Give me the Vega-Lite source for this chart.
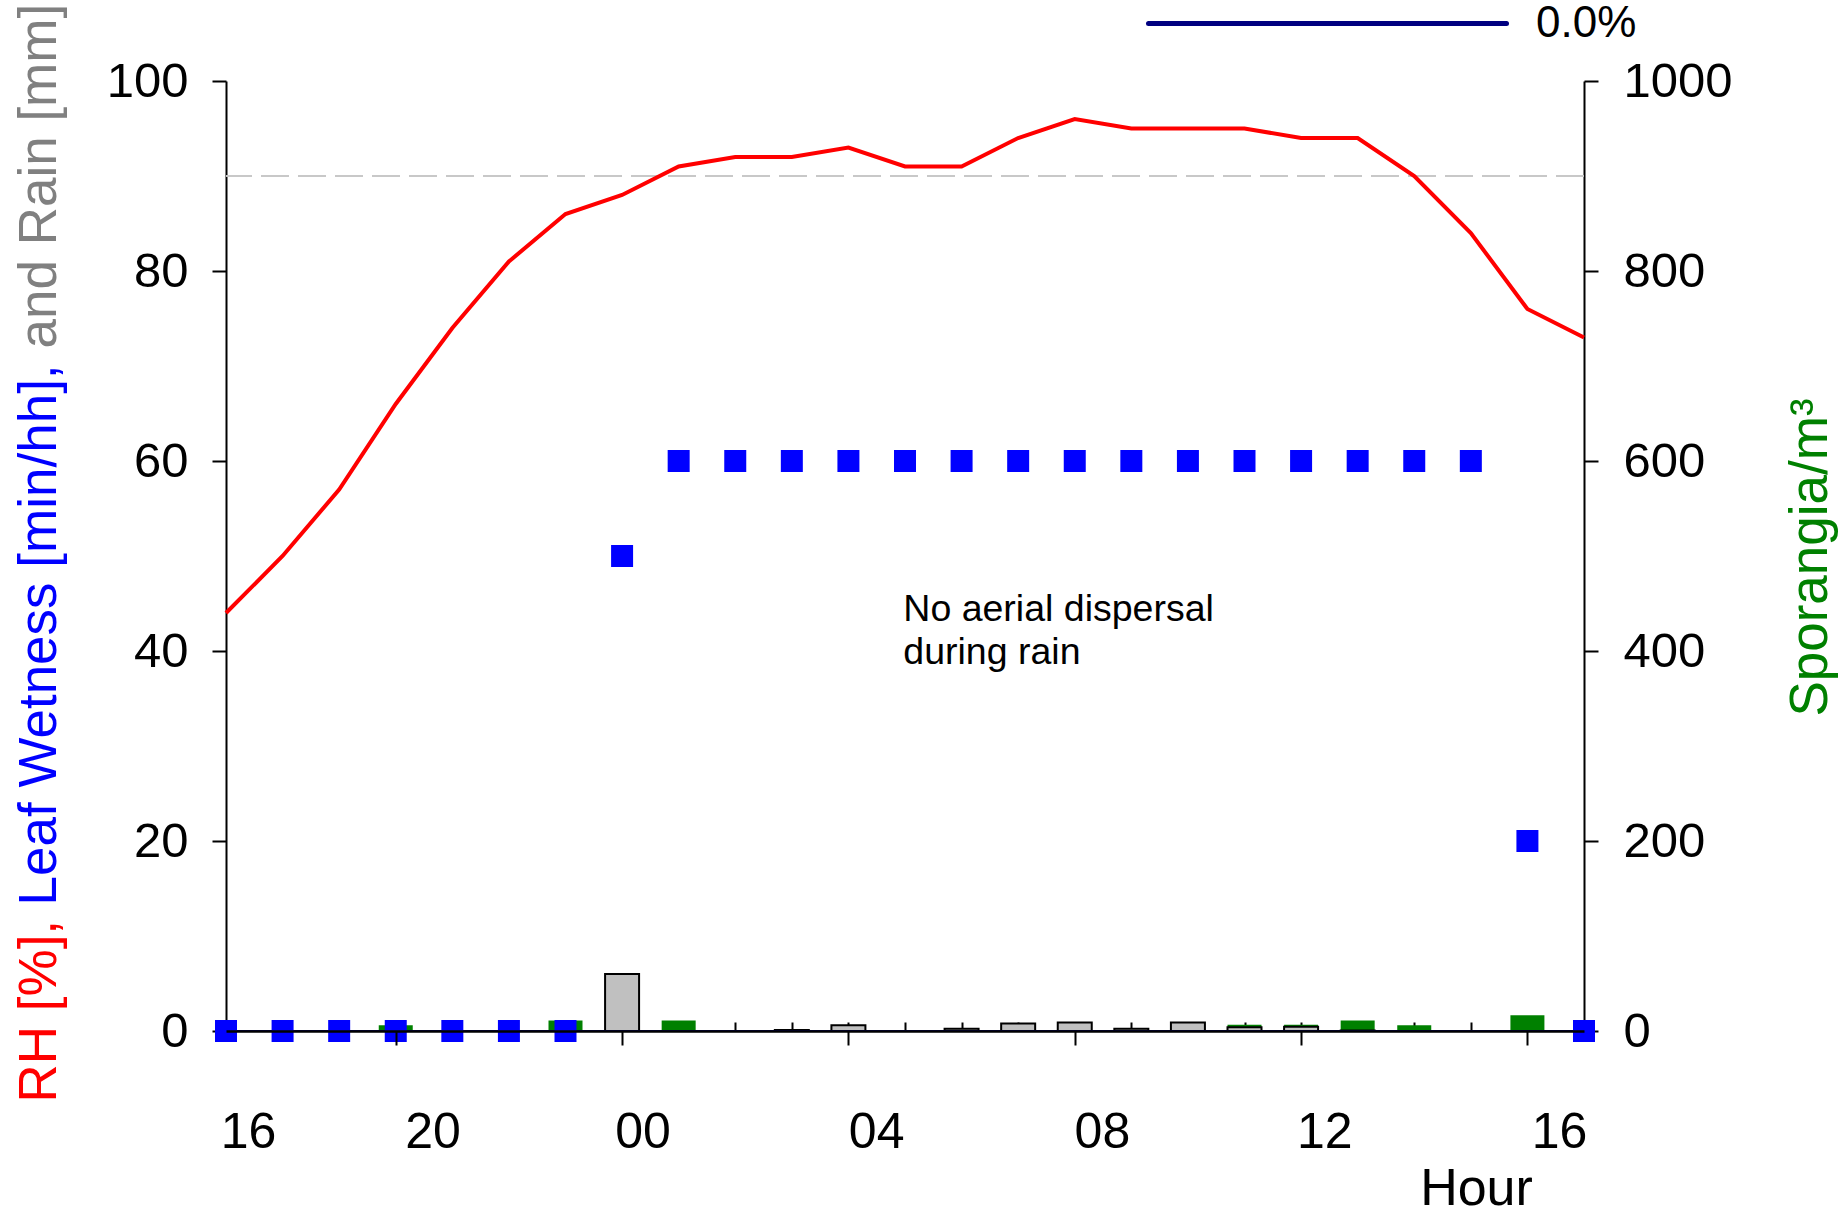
{
  "$schema": "https://vega.github.io/schema/vega-lite/v6.json",
  "width": 1358,
  "height": 950,
  "autosize": "none",
  "padding": {"left": 226, "top": 81, "right": 255, "bottom": 178},
  "background": "white",
  "config": {
    "view": {"stroke": null},
    "font": "Liberation Sans",
    "axis": {"labelFont": "Liberation Sans", "titleFont": "Liberation Sans", "titleFontWeight": "normal", "domainColor": "black", "tickColor": "black", "labelColor": "black", "grid": false}
  },
  "data": {"values": [
    {"h": 0, "rh": 44, "lw": 0, "rain": null, "spor": null, "risk": 0},
    {"h": 1, "rh": 50, "lw": 0, "rain": null, "spor": null, "risk": 0},
    {"h": 2, "rh": 57, "lw": 0, "rain": null, "spor": null, "risk": 0},
    {"h": 3, "rh": 66, "lw": 0, "rain": null, "spor": 6, "risk": 0},
    {"h": 4, "rh": 74, "lw": 0, "rain": null, "spor": null, "risk": 0},
    {"h": 5, "rh": 81, "lw": 0, "rain": null, "spor": null, "risk": 0},
    {"h": 6, "rh": 86, "lw": 0, "rain": null, "spor": 11, "risk": 0},
    {"h": 7, "rh": 88, "lw": 50, "rain": 6, "spor": null, "risk": 0},
    {"h": 8, "rh": 91, "lw": 60, "rain": null, "spor": 11, "risk": 0},
    {"h": 9, "rh": 92, "lw": 60, "rain": null, "spor": null, "risk": 0},
    {"h": 10, "rh": 92, "lw": 60, "rain": 0.1, "spor": null, "risk": 0},
    {"h": 11, "rh": 93, "lw": 60, "rain": 0.6, "spor": null, "risk": 0},
    {"h": 12, "rh": 91, "lw": 60, "rain": null, "spor": null, "risk": 0},
    {"h": 13, "rh": 91, "lw": 60, "rain": 0.25, "spor": null, "risk": 0},
    {"h": 14, "rh": 94, "lw": 60, "rain": 0.8, "spor": null, "risk": 0},
    {"h": 15, "rh": 96, "lw": 60, "rain": 0.9, "spor": null, "risk": 0},
    {"h": 16, "rh": 95, "lw": 60, "rain": 0.25, "spor": null, "risk": 0},
    {"h": 17, "rh": 95, "lw": 60, "rain": 0.9, "spor": null, "risk": 0},
    {"h": 18, "rh": 95, "lw": 60, "rain": 0.4, "spor": 6.5, "risk": 0},
    {"h": 19, "rh": 94, "lw": 60, "rain": 0.45, "spor": 6.5, "risk": 0},
    {"h": 20, "rh": 94, "lw": 60, "rain": 0.05, "spor": 11, "risk": 0},
    {"h": 21, "rh": 90, "lw": 60, "rain": null, "spor": 6, "risk": 0},
    {"h": 22, "rh": 84, "lw": 60, "rain": null, "spor": null, "risk": 0},
    {"h": 23, "rh": 76, "lw": 20, "rain": null, "spor": 16.5, "risk": 0},
    {"h": 24, "rh": 73, "lw": 0, "rain": null, "spor": null, "risk": 0}
  ]},
  "layer": [
    {
      "mark": {"type": "bar", "size": 34, "color": "#008000"},
      "encoding": {
        "x": {"field": "h", "type": "quantitative", "scale": {"domain": [0, 24], "nice": false, "zero": false, "padding": 0}, "axis": null},
        "y": {"field": "spor", "type": "quantitative", "scale": {"domain": [0, 1000], "nice": false},
          "axis": {"orient": "right", "values": [0, 200, 400, 600, 800, 1000], "format": "d", "tickSize": 14, "tickWidth": 2, "domainWidth": 2, "labelFontSize": 49, "labelPadding": 25, "labelAlign": "left", "labelBaseline": "middle",
            "title": "Sporangia/m³", "titleColor": "#008000", "titleFontSize": 53, "titleAngle": 270, "titleAlign": "center", "titleBaseline": "alphabetic", "titleX": 242, "titleY": 476, "zindex": 0}}
      }
    },
    {
      "layer": [
        {
          "data": {"values": [{"threshold": 90}]},
          "mark": {"type": "rule", "color": "#c8c8c8", "strokeWidth": 2, "strokeDash": [28, 9]},
          "encoding": {"y": {"field": "threshold", "type": "quantitative", "axis": null}}
        },
        {
          "mark": {"type": "bar", "size": 34, "fill": "#c0c0c0", "stroke": "black", "strokeWidth": 2},
          "encoding": {
            "x": {"field": "h", "type": "quantitative", "scale": {"domain": [0, 24], "nice": false, "zero": false, "padding": 0},
              "axis": {"orient": "bottom", "values": [0.39, 3.65, 7.36, 11.49, 15.48, 19.41, 23.56],
                "labelExpr": "datum.value < 1 ? '16' : datum.value < 5 ? '20' : datum.value < 9 ? '00' : datum.value < 13 ? '04' : datum.value < 17 ? '08' : datum.value < 21 ? '12' : '16'",
                "ticks": false, "tickSize": 0, "domain": false, "labelFontSize": 50, "labelBaseline": "alphabetic", "labelPadding": 116, "labelAlign": "center", "labelFlush": false, "labelOverlap": false,
                "title": "Hour", "titleFontSize": 52, "titleX": 1250, "titleY": 173, "titleAlign": "center", "titleBaseline": "alphabetic", "zindex": 0}},
            "y": {"field": "rain", "type": "quantitative", "scale": {"domain": [0, 100], "nice": false},
              "axis": {"orient": "left", "values": [0, 20, 40, 60, 80, 100], "tickSize": 14, "tickWidth": 2, "domainWidth": 2, "labelFontSize": 49, "labelPadding": 24, "labelBaseline": "middle",
                "title": "RH [%],", "titleColor": "#ff0000", "titleFontSize": 53, "titleAngle": 270, "titleAlign": "left", "titleBaseline": "alphabetic", "titleX": -171, "titleY": 1021, "zindex": 0}}
          }
        },
        {
          "mark": {"type": "line", "strokeWidth": 2},
          "encoding": {
            "x": {"field": "h", "type": "quantitative", "axis": null},
            "y": {"field": "risk", "type": "quantitative", "axis": null},
            "color": {"datum": "0.0%", "type": "nominal", "scale": {"range": ["#000080"]},
              "legend": {"orient": "none", "legendX": 920, "legendY": -239, "title": null, "symbolType": "stroke", "symbolSize": 128164, "symbolStrokeWidth": 5, "labelFontSize": 44, "labelOffset": 27, "padding": 0, "labelFont": "Liberation Sans", "labelColor": "black",
                "encode": {"symbols": {"update": {"strokeCap": {"value": "round"}}}}}}
          }
        },
        {
          "mark": {"type": "line", "color": "#ff0000", "strokeWidth": 4},
          "encoding": {
            "x": {"field": "h", "type": "quantitative",
              "axis": {"orient": "bottom", "values": [3, 7, 11, 15, 19, 23], "tickSize": 14, "tickWidth": 2, "labels": false, "domain": true, "domainWidth": 2.7, "title": null, "zindex": 1}},
            "y": {"field": "rh", "type": "quantitative",
              "axis": {"orient": "left", "labels": false, "ticks": false, "domain": false,
                "title": "Leaf Wetness [min/hh],", "titleColor": "#0000ff", "titleFontSize": 53, "titleAngle": 270, "titleAlign": "left", "titleBaseline": "alphabetic", "titleX": -171, "titleY": 824, "zindex": 0}}
          }
        },
        {
          "mark": {"type": "square", "size": 484, "color": "#0000ff", "opacity": 1, "filled": true},
          "encoding": {
            "x": {"field": "h", "type": "quantitative",
              "axis": {"orient": "bottom", "values": [0,1,2,3,4,5,6,7,8,9,10,11,12,13,14,15,16,17,18,19,20,21,22,23,24], "tickSize": -9, "tickWidth": 2, "labels": false, "domain": false, "title": null, "zindex": 0}},
            "y": {"field": "lw", "type": "quantitative",
              "axis": {"orient": "left", "labels": false, "ticks": false, "domain": false,
                "title": "and Rain [mm]", "titleColor": "#808080", "titleFontSize": 53, "titleAngle": 270, "titleAlign": "left", "titleBaseline": "alphabetic", "titleX": -171, "titleY": 267, "zindex": 0}}
          }
        },
        {
          "data": {"values": [{"note": ["No aerial dispersal", "during rain"]}]},
          "mark": {"type": "text", "align": "left", "baseline": "alphabetic", "fontSize": 37.5, "fontWeight": "normal", "lineHeight": 43, "font": "Liberation Sans", "color": "black"},
          "encoding": {
            "text": {"field": "note"},
            "x": {"datum": 11.97, "type": "quantitative", "axis": null},
            "y": {"datum": 43.2, "type": "quantitative", "axis": null}
          }
        }
      ],
      "resolve": {"axis": {"x": "independent", "y": "independent"}}
    }
  ],
  "resolve": {"scale": {"y": "independent"}, "axis": {"x": "independent", "y": "independent"}}
}
